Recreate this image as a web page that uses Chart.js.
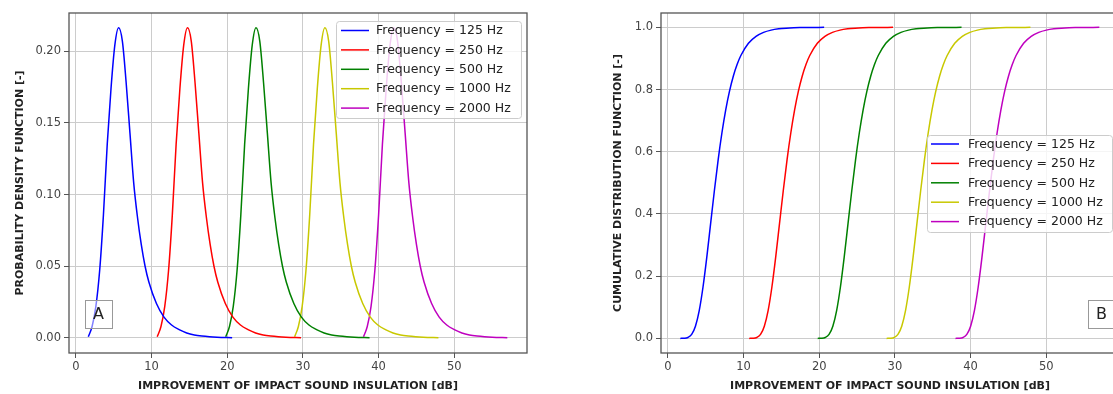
<!DOCTYPE html>
<html>
<head>
<meta charset="utf-8">
<title>Impact sound insulation improvement - PDF / CDF</title>
<script src="https://cdn.jsdelivr.net/npm/chart.js"></script>
<style>
  html, body { margin: 0; padding: 0; background: #fff; overflow: hidden; }
  body { width: 1113px; height: 394px; position: relative; }
  #pdfChart { position: absolute; left: 0; top: 0; }
  #cdfChart { position: absolute; left: 560px; top: 0; }
</style>
</head>
<body>
<canvas id="pdfChart" width="560" height="394"></canvas>
<canvas id="cdfChart" width="600" height="394"></canvas>
<script>
const FONT = "'DejaVu Sans', Verdana, sans-serif";

const frequencies = ['125', '250', '500', '1000', '2000'];
const lineColors = ['#0000ff', '#ff0000', '#008000', '#c8c800', '#bf00bf'];

// sample positions along the x axis [dB], one array per band
const x125 = [1.65, 2.15, 2.65, 3.15, 3.65, 4.15, 4.65, 5.15, 5.65, 6.15, 6.65, 7.15, 7.65, 8.15, 8.65, 9.15, 9.65, 10.65, 11.65, 12.65, 13.65, 14.65, 15.65, 16.65, 17.65, 18.65, 20.65];
const x250 = [10.75, 11.25, 11.75, 12.25, 12.75, 13.25, 13.75, 14.25, 14.75, 15.25, 15.75, 16.25, 16.75, 17.25, 17.75, 18.25, 18.75, 19.75, 20.75, 21.75, 22.75, 23.75, 24.75, 25.75, 26.75, 27.75, 29.75];
const x500 = [19.8, 20.3, 20.8, 21.3, 21.8, 22.3, 22.8, 23.3, 23.8, 24.3, 24.8, 25.3, 25.8, 26.3, 26.8, 27.3, 27.8, 28.8, 29.8, 30.8, 31.8, 32.8, 33.8, 34.8, 35.8, 36.8, 38.8];
const x1000 = [28.9, 29.4, 29.9, 30.4, 30.9, 31.4, 31.9, 32.4, 32.9, 33.4, 33.9, 34.4, 34.9, 35.4, 35.9, 36.4, 36.9, 37.9, 38.9, 39.9, 40.9, 41.9, 42.9, 43.9, 44.9, 45.9, 47.9];
const x2000 = [38.0, 38.5, 39.0, 39.5, 40.0, 40.5, 41.0, 41.5, 42.0, 42.5, 43.0, 43.5, 44.0, 44.5, 45.0, 45.5, 46.0, 47.0, 48.0, 49.0, 50.0, 51.0, 52.0, 53.0, 54.0, 55.0, 57.0];

// panel A: probability density (all bands have the same shape)
const pdfValues = [0.0008, 0.008, 0.022, 0.047, 0.086, 0.135, 0.174, 0.204, 0.2163, 0.207, 0.178, 0.143, 0.108, 0.084, 0.065, 0.050, 0.039, 0.024, 0.0145, 0.009, 0.0058, 0.0035, 0.0021, 0.0013, 0.0008, 0.0005, 0.0002];
// panel B: cumulative distribution
const cdfValues = [0.0000, 0.0004, 0.0029, 0.0129, 0.0391, 0.0893, 0.1652, 0.2613, 0.3679, 0.4747, 0.5741, 0.6610, 0.7346, 0.7948, 0.8427, 0.8802, 0.9093, 0.9486, 0.9711, 0.9838, 0.9910, 0.9950, 0.9972, 0.9985, 0.9991, 0.9995, 0.9999];

const xTicks = [0, 10, 20, 30, 40, 50];
const pdfTicks = [0.00, 0.05, 0.10, 0.15, 0.20];
const cdfTicks = [0.0, 0.2, 0.4, 0.6, 0.8, 1.0];

const xSeries = [x125, x250, x500, x1000, x2000];

function makeDatasets(values) {
  return frequencies.map(function(f, i) {
    return {
      label: 'Frequency = ' + f + ' Hz',
      data: xSeries[i].map(function(x, j) { return { x: x, y: values[j] }; }),
      borderColor: lineColors[i],
      backgroundColor: lineColors[i],
      borderWidth: 1.5,
      pointRadius: 0,
      fill: false,
      cubicInterpolationMode: 'monotone'
    };
  });
}

// matplotlib-like frame, in-axes legend and panel letter
const decorations = {
  id: 'decorations',
  afterDatasetsDraw: function(chart, args, opts) {
    const ctx = chart.ctx;
    const a = chart.chartArea;
    ctx.save();
    ctx.strokeStyle = '#555';
    ctx.lineWidth = 1.3;
    ctx.strokeRect(a.left, a.top, a.right - a.left, a.bottom - a.top);

    const t = opts.tag;
    ctx.fillStyle = 'rgba(255,255,255,0.5)';
    ctx.fillRect(t.x, t.y, t.w, t.h);
    ctx.strokeStyle = '#999';
    ctx.lineWidth = 1;
    ctx.strokeRect(t.x + 0.5, t.y + 0.5, t.w, t.h);
    ctx.fillStyle = '#222';
    ctx.font = '16px ' + FONT;
    ctx.textAlign = 'center';
    ctx.textBaseline = 'middle';
    ctx.fillText(t.text, t.x + t.w / 2, t.y + t.h / 2 + 1);

    const L = opts.legend;
    ctx.beginPath();
    ctx.roundRect(L.x + 0.5, L.y + 0.5, L.w, L.h, 3);
    ctx.fillStyle = 'rgba(255,255,255,0.8)';
    ctx.fill();
    ctx.strokeStyle = '#cccccc';
    ctx.lineWidth = 1;
    ctx.stroke();
    ctx.font = '12.5px ' + FONT;
    ctx.textAlign = 'left';
    ctx.textBaseline = 'middle';
    chart.data.datasets.forEach(function(ds, i) {
      const y = L.rowY + i * L.rowGap;
      ctx.beginPath();
      ctx.moveTo(L.lineX, y);
      ctx.lineTo(L.lineX + 28, y);
      ctx.strokeStyle = ds.borderColor;
      ctx.lineWidth = 1.5;
      ctx.stroke();
      ctx.fillStyle = '#222';
      ctx.fillText(ds.label, L.textX, y + 0.5);
    });
    ctx.restore();
  }
};

function makeChart(canvasId, cfg) {
  const tickFont = { family: FONT, size: 11.5 };
  const titleFont = { family: FONT, size: 11, weight: 'bold' };
  const gridStyle = { color: '#cccccc', lineWidth: 1, drawTicks: true, tickLength: 5, tickColor: '#555', tickWidth: 1 };
  return new Chart(document.getElementById(canvasId).getContext('2d'), {
    type: 'line',
    data: { datasets: makeDatasets(cfg.values) },
    options: {
      responsive: false,
      animation: false,
      devicePixelRatio: 1,
      events: [],
      layout: { padding: cfg.padding },
      plugins: {
        legend: { display: false },
        tooltip: { enabled: false },
        decorations: { tag: cfg.tag, legend: cfg.legend }
      },
      scales: {
        x: {
          type: 'linear',
          min: -0.9,
          max: 59.6,
          afterBuildTicks: function(s) { s.ticks = xTicks.map(function(v) { return { value: v }; }); },
          afterFit: function(s) { s.height = 41; },
          grid: gridStyle,
          border: { display: false },
          ticks: { font: tickFont, color: '#444', padding: 2, maxRotation: 0, callback: function(v) { return String(v); } },
          title: { display: true, text: 'IMPROVEMENT OF IMPACT SOUND INSULATION [dB]', font: titleFont, color: '#222', padding: { top: 0, bottom: 1.5 } }
        },
        y: {
          type: 'linear',
          min: cfg.yMin,
          max: cfg.yMax,
          afterBuildTicks: function(s) { s.ticks = cfg.yTicks.map(function(v) { return { value: v }; }); },
          afterFit: function(s) { s.width = cfg.yWidth; },
          grid: gridStyle,
          border: { display: false },
          ticks: { font: tickFont, color: '#444', padding: 3, callback: function(v) { return v.toFixed(cfg.decimals); } },
          title: { display: true, text: cfg.yTitle, font: titleFont, color: '#222', padding: { top: cfg.yTitlePad, bottom: 0 } }
        }
      }
    },
    plugins: [decorations]
  });
}

makeChart('pdfChart', {
  values: pdfValues,
  yMin: -0.0105, yMax: 0.2266,
  yTicks: pdfTicks, decimals: 2,
  yWidth: 69, yTitlePad: 13.4,
  yTitle: 'PROBABILITY DENSITY FUNCTION [-]',
  padding: { left: 0, top: 13, right: 33, bottom: 0 },
  tag: { text: 'A', x: 85, y: 300, w: 27, h: 28 },
  legend: { x: 336, y: 21, w: 185, h: 97, rowY: 30.5, rowGap: 19.4, lineX: 341, textX: 376 }
});

makeChart('cdfChart', {
  values: cdfValues,
  yMin: -0.047, yMax: 1.046,
  yTicks: cdfTicks, decimals: 1,
  yWidth: 101, yTitlePad: 51.4,
  yTitle: 'CUMULATIVE DISTRIBUTION FUNCTION [-]',
  padding: { left: 0, top: 13, right: 41, bottom: 0 },
  tag: { text: 'B', x: 528, y: 300, w: 27, h: 28 },
  legend: { x: 367, y: 135, w: 185, h: 97, rowY: 144, rowGap: 19.4, lineX: 371, textX: 408 }
});
</script>
</body>
</html>
